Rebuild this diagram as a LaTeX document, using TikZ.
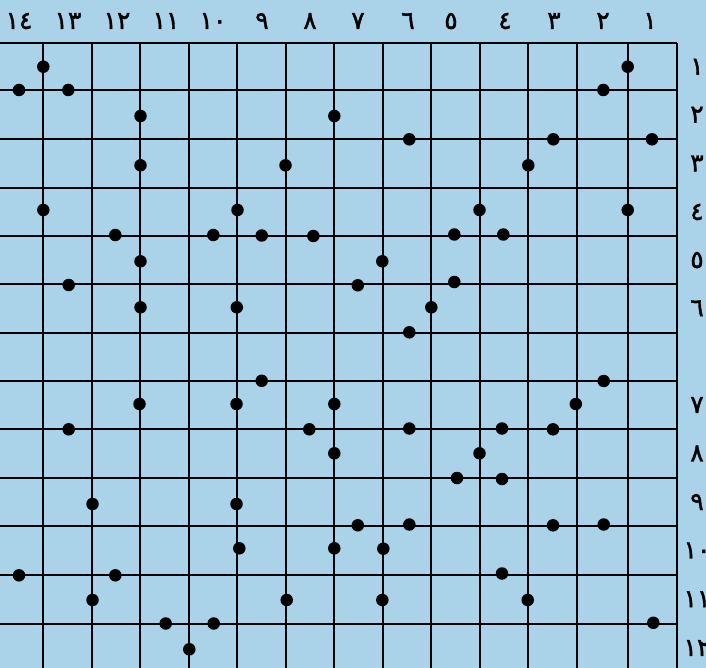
\documentclass[tikz,border=0pt]{standalone}
\usepackage{fontspec}
\newfontfamily\arabicfont[Script=Arabic,FakeBold=1.5]{DejaVu Sans}
\definecolor{bgblue}{RGB}{170,210,232}
\begin{document}
\begin{tikzpicture}[x=1pt,y=-1pt,
  gridline/.style={line width=1.8pt,black},
  dot/.style={circle,fill=black,inner sep=0pt,minimum size=12.5pt},
  lbl/.style={font=\arabicfont\fontsize{25}{25}\selectfont,inner sep=0pt,text=black}]
\useasboundingbox (0,0) rectangle (706,668);
\fill[bgblue] (0,0) rectangle (706,668);
% vertical grid lines
\foreach \x in {43.3,92,140.3,189,237.3,286,334.3,382.7,431.3,479.7,528,576.7,628.3,676.7}
  \draw[gridline] (\x,43.3) -- (\x,670);
% horizontal grid lines
\foreach \y in {43.3,90,139.3,187.7,236,284,332.7,381,429.3,477.7,526,575,623.7}
  \draw[gridline] (-2,\y) -- (676.7,\y);
% column labels
\foreach \x/\t [count=\i] in {650/١,603/٢,554/٣,505/٤,451/٥,408/٦,358/٧,310/٨,262/٩,213/١٠,166/١١,117/١٢,68/١٣,19/١٤}
  \node[lbl] (c\i) at (\x,21) {\t};
% row labels
\foreach \y/\t [count=\i] in {66.7/١,114.7/٢,163.5/٣,212/٤,260/٥,308.3/٦,405/٧,453.5/٨,502/٩,550.5/١٠,599.3/١١,648/١٢}
  \node[lbl] (r\i) at (697,\y) {\t};
% dots
\foreach \x/\y [count=\i] in {
  43.3/66.7, 19/90, 68.3/90, 627.7/66.7, 603.3/90,
  140.5/116, 334.3/116, 409.3/139.3, 553.3/139.3, 652/139.3,
  140.5/165.3, 285.5/165.3, 528.3/165.3,
  43.3/210, 237.5/210, 479.5/210, 627.7/210,
  115.3/235, 213.3/235, 261.7/235.5, 313.3/236, 454.3/234.5, 503.3/234.5,
  140.5/261.3, 382.3/261.3, 68.7/285, 357.8/285.3, 454.3/282,
  140.5/307.3, 236.8/307.3, 431.3/307.3, 409.3/332.3,
  261.7/380.8, 603.7/381,
  139.5/404, 236.5/404, 334.3/404, 575.8/404,
  68.7/429.3, 309.3/429.3, 409.3/428.5, 502/428.5, 553/429.3,
  334.3/453.3, 479.5/453.3, 457/478, 502/479,
  92.5/504, 236.5/504, 357.8/525.3, 409.3/524.5, 553/525.3, 603.7/524.5,
  239.3/548.3, 334.3/548.3, 383.3/548.7,
  19/575.3, 115.3/575.3, 502/573.5,
  92.5/600, 286.7/600, 382.3/600, 527.7/600,
  165.7/623.5, 213.7/623.5, 653.3/622.8,
  189.3/649.3}
  \node[dot] (d\i) at (\x,\y) {};
\end{tikzpicture}
\end{document}
